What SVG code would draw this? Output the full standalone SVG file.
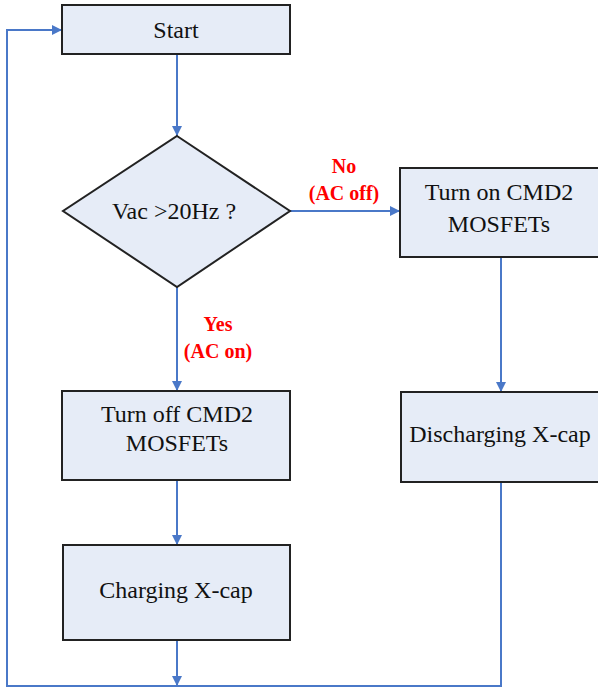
<svg xmlns="http://www.w3.org/2000/svg" width="598" height="689" viewBox="0 0 598 689">
<style>
.box{fill:#E6ECF7;stroke:#222;stroke-width:2}
.node-text{font-family:"Liberation Serif","Times New Roman",serif;font-size:24px;font-weight:normal;fill:#111;text-anchor:middle}
.lbl{font-family:"Liberation Serif","Times New Roman",serif;font-size:20px;font-weight:bold;fill:#FF0000;text-anchor:middle}
.c{fill:none;stroke:#4A78C8;stroke-width:2}
</style>
<defs>
<marker id="ah" viewBox="0 0 10 10" refX="10" refY="5" markerWidth="5" markerHeight="5" orient="auto" markerUnits="strokeWidth">
<path d="M0,0 L10,5 L0,10 z" fill="#4A78C8"/>
</marker>
</defs>
<rect width="598" height="689" fill="#fff"/>
<g id="connectors">
<path class="c" d="M177,54 V136" marker-end="url(#ah)"/>
<path class="c" d="M290,211 H400" marker-end="url(#ah)"/>
<path class="c" d="M177,287 V391" marker-end="url(#ah)"/>
<path class="c" d="M501,257 V392" marker-end="url(#ah)"/>
<path class="c" d="M177,480 V545" marker-end="url(#ah)"/>
<path class="c" d="M177,640 V686" marker-end="url(#ah)"/>
<path class="c" d="M501,482 V686 H7 V30 H62" marker-end="url(#ah)"/>
</g>
<g id="labels">
<text class="lbl" x="344" y="173">No</text>
<text class="lbl" x="344" y="200">(AC off)</text>
<text class="lbl" x="218" y="331">Yes</text>
<text class="lbl" x="218" y="358">(AC on)</text>
</g>
<g id="start">
<rect class="box" x="62" y="5" width="228" height="49"/>
<text class="node-text" x="176" y="38">Start</text>
</g>
<g id="decision">
<polygon class="box" points="177,136 290,211 177,287 63,211"/>
<text class="node-text" x="174" y="219">Vac &gt;20Hz ?</text>
</g>
<g id="turn-on">
<rect class="box" x="400" y="168" width="210" height="89"/>
<text class="node-text" x="499" y="200">Turn on CMD2</text>
<text class="node-text" x="499" y="232">MOSFETs</text>
</g>
<g id="turn-off">
<rect class="box" x="62" y="391" width="228" height="89"/>
<text class="node-text" x="177" y="422">Turn off CMD2</text>
<text class="node-text" x="177" y="451">MOSFETs</text>
</g>
<g id="discharging">
<rect class="box" x="401" y="392" width="210" height="90"/>
<text class="node-text" x="500" y="442">Discharging X-cap</text>
</g>
<g id="charging">
<rect class="box" x="63" y="545" width="227" height="95"/>
<text class="node-text" x="176" y="598">Charging X-cap</text>
</g>
</svg>
